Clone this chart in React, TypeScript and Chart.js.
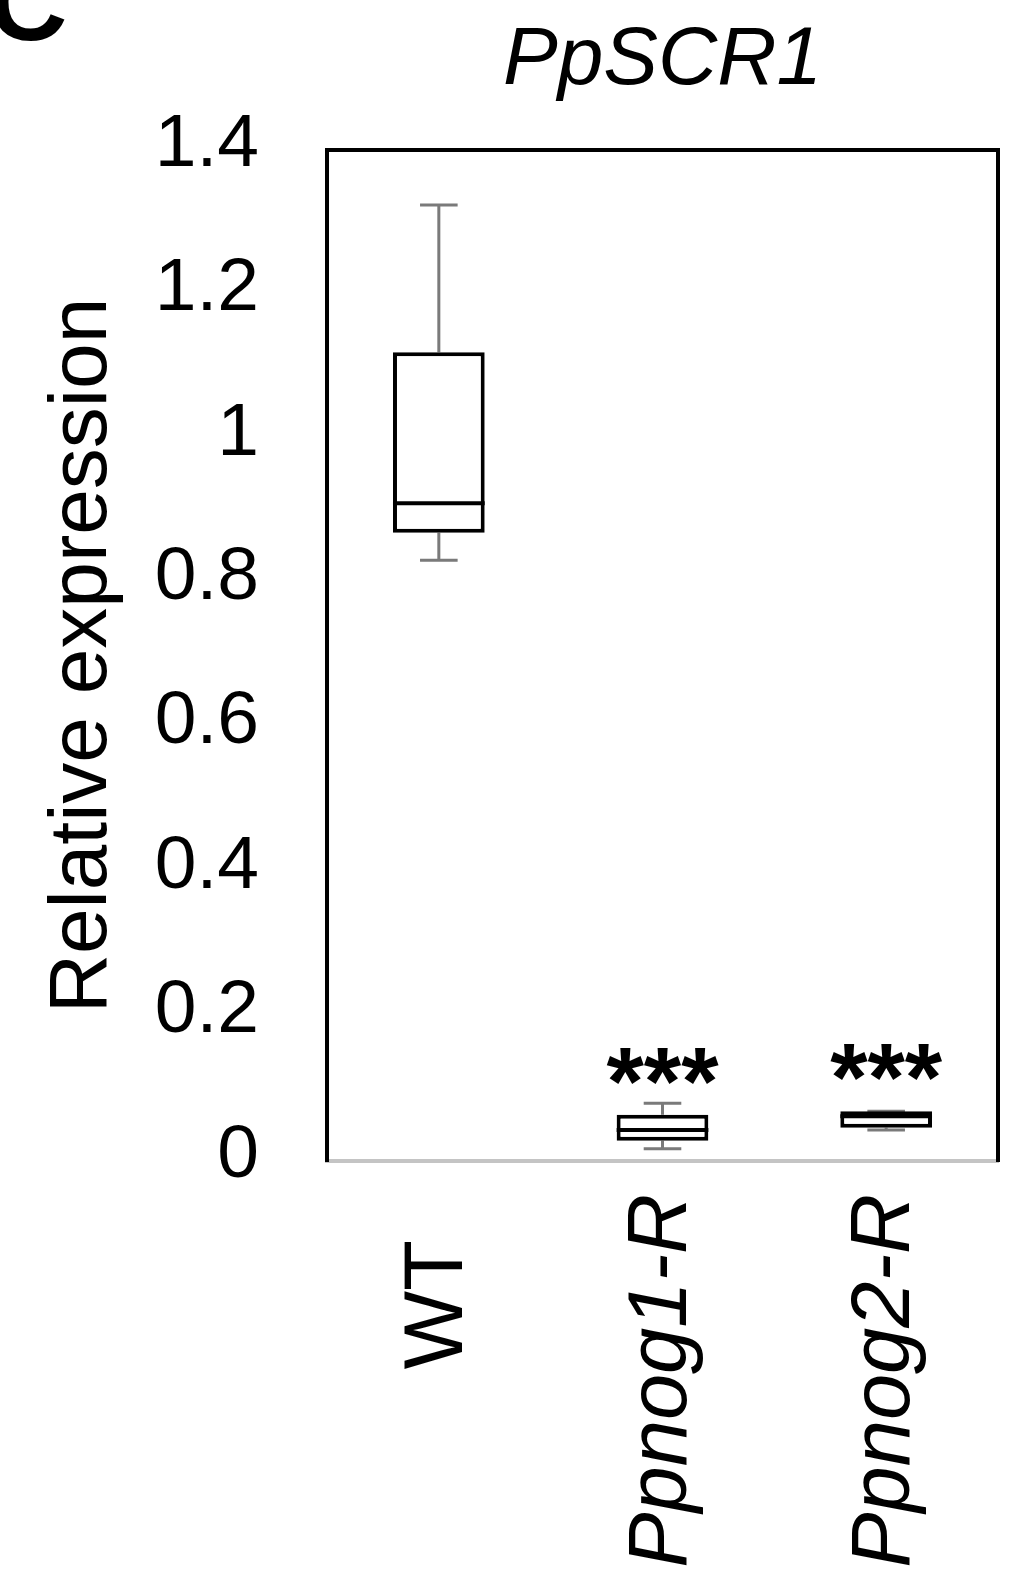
import React, { useEffect, useRef } from 'react';
import { Chart, registerables } from 'chart.js';

Chart.register(...registerables);

// ---- data ----
const categories = ['WT', 'Ppnog1-R', 'Ppnog2-R'];
const whiskerLow = [0.832, 0.017, 0.043];
const q1 = [0.87, 0.028, 0.046];
const median = [0.911, 0.043, 0.062];
const q3 = [1.12, 0.064, 0.069];
const whiskerHigh = [1.324, 0.08, 0.069];
const significance = ['', '***', '***'];
const yMin = 0;
const yMax = 1.4;
const yStep = 0.2;
const chartTitle = 'PpSCR1';
const yAxisTitle = 'Relative expression';
const panelLetter = 'C';

const FONT = '"Liberation Sans", Arial, Helvetica, sans-serif';

const boxPlugin = {
  id: 'boxParts',
  beforeDatasetsDraw(chart: any) {
    const ctx = chart.ctx;
    const ys = chart.scales.y;
    const meta = chart.getDatasetMeta(0);
    ctx.save();
    ctx.strokeStyle = '#7a7a7a';
    ctx.lineWidth = 3;
    meta.data.forEach((bar: any, i: number) => {
      const { x, width } = bar.getProps(['x', 'width'], true);
      const cap = width * 0.41;
      const yl = ys.getPixelForValue(whiskerLow[i]);
      const yh = ys.getPixelForValue(whiskerHigh[i]);
      const y1 = ys.getPixelForValue(q1[i]);
      const y3 = ys.getPixelForValue(q3[i]);
      ctx.beginPath();
      ctx.moveTo(x, y3);
      ctx.lineTo(x, yh);
      ctx.moveTo(x - cap / 2, yh);
      ctx.lineTo(x + cap / 2, yh);
      ctx.moveTo(x, y1);
      ctx.lineTo(x, yl);
      ctx.moveTo(x - cap / 2, yl);
      ctx.lineTo(x + cap / 2, yl);
      ctx.stroke();
    });
    ctx.restore();
  },
  afterDatasetsDraw(chart: any) {
    const ctx = chart.ctx;
    const ys = chart.scales.y;
    const meta = chart.getDatasetMeta(0);
    ctx.save();
    meta.data.forEach((bar: any, i: number) => {
      const { x, width } = bar.getProps(['x', 'width'], true);
      const ym = ys.getPixelForValue(median[i]);
      ctx.strokeStyle = '#000';
      ctx.lineWidth = 4;
      ctx.beginPath();
      ctx.moveTo(x - width / 2, ym);
      ctx.lineTo(x + width / 2, ym);
      ctx.stroke();
      if (significance[i]) {
        const y3 = ys.getPixelForValue(q3[i]);
        ctx.fillStyle = '#000';
        ctx.font = `bold 96px ${FONT}`;
        ctx.textAlign = 'center';
        ctx.textBaseline = 'alphabetic';
        ctx.fillText(significance[i], x, y3 - 1);
      }
    });
    ctx.restore();
  },
  afterDraw(chart: any) {
    const ctx = chart.ctx;
    ctx.save();
    ctx.fillStyle = '#000';
    ctx.font = `bold 110px ${FONT}`;
    ctx.textAlign = 'left';
    ctx.textBaseline = 'alphabetic';
    ctx.fillText(panelLetter, -12, 40);
    ctx.restore();
  },
};

export default function App() {
  const ref = useRef<HTMLCanvasElement | null>(null);

  useEffect(() => {
    if (!ref.current) return;
    const chart = new Chart(ref.current, {
      type: 'bar',
      data: {
        labels: categories,
        datasets: [
          {
            data: categories.map((_, i) => [q1[i], q3[i]]) as any,
            backgroundColor: '#ffffff',
            borderColor: '#000000',
            borderWidth: 4,
            borderSkipped: false,
            barPercentage: 0.41,
            categoryPercentage: 1,
          },
        ],
      },
      options: {
        animation: false,
        responsive: true,
        maintainAspectRatio: false,
        layout: { padding: 0 },
        plugins: {
          legend: { display: false },
          tooltip: { enabled: false },
          title: { display: false },
        },
        scales: {
          x: {
            type: 'category',
            position: 'bottom',
            grid: { display: false, drawTicks: false },
            border: { display: true, color: '#c4c4c4', width: 4 },
            ticks: {
              autoSkip: false,
              minRotation: 90,
              maxRotation: 90,
              padding: 33,
              color: '#000',
              font: (c: any) => ({
                family: FONT,
                size: 83,
                style: c.index === 0 ? 'normal' : 'italic',
              }),
              callback: (_v: any, i: number) =>
                categories[i] + (i === 0 ? '\u00A0\u00A0' : ''),
            },
            afterFit: (s: any) => {
              s.height = 412;
              s.paddingLeft = 0;
              s.paddingRight = 0;
            },
          },
          x2: {
            type: 'category',
            position: 'top',
            grid: { display: false, drawTicks: false },
            border: { display: true, color: '#000', width: 4 },
            ticks: { display: false },
            title: {
              display: true,
              text: chartTitle,
              color: '#000',
              font: { family: FONT, size: 82, style: 'italic' },
              padding: { top: 12, bottom: 0 },
            },
            afterFit: (s: any) => {
              s.height = 150;
              s.paddingLeft = 0;
              s.paddingRight = 0;
            },
          },
          y: {
            type: 'linear',
            position: 'left',
            min: yMin,
            max: yMax,
            grid: { display: false, drawTicks: false },
            border: { display: true, color: '#000', width: 4 },
            ticks: {
              stepSize: yStep,
              padding: 68,
              labelOffset: -5,
              color: '#000',
              font: { family: FONT, size: 75 },
              callback: (v: any) => String(Number(Number(v).toFixed(2))),
            },
            title: {
              display: true,
              text: yAxisTitle,
              color: '#000',
              font: { family: FONT, size: 82 },
              padding: { top: 34, bottom: 0 },
            },
            afterFit: (s: any) => {
              s.width = 327;
            },
          },
          y2: {
            type: 'linear',
            position: 'right',
            min: yMin,
            max: yMax,
            grid: { display: false, drawTicks: false },
            border: { display: true, color: '#000', width: 4 },
            ticks: { display: false },
            afterFit: (s: any) => {
              s.width = 20;
            },
          },
        },
      },
      plugins: [boxPlugin],
    });
    return () => chart.destroy();
  }, []);

  return (
    <div
      style={{
        position: 'fixed',
        left: 0,
        top: 0,
        width: 1018,
        height: 1573,
        background: '#fff',
      }}
    >
      <canvas ref={ref} />
    </div>
  );
}
